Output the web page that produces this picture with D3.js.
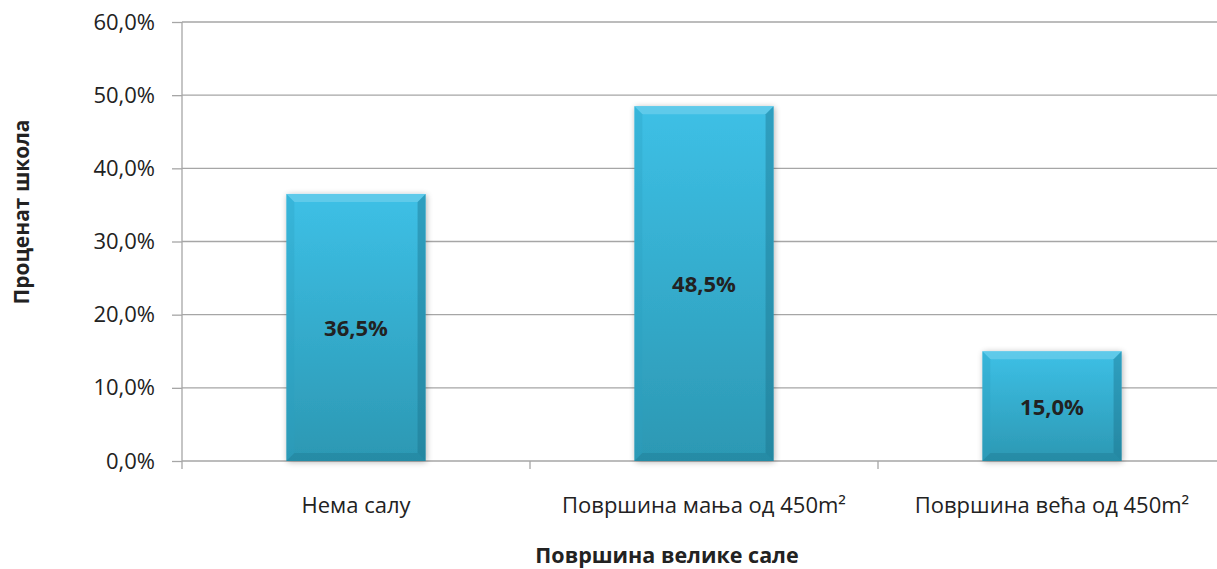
<!DOCTYPE html>
<html><head><meta charset="utf-8">
<script src="https://cdn.jsdelivr.net/npm/d3@7"></script>
<style>body{margin:0;background:#fff;overflow:hidden}text{font-family:"Open Sans","Noto Sans",sans-serif}</style>
</head><body>
<svg id="c" width="1217" height="569"></svg>
<script>
const categories = ["Нема салу", "Површина мања од 450m²", "Површина већа од 450m²"];
const values = [36.5, 48.5, 15.0];
const yTicks = [0, 10, 20, 30, 40, 50, 60];
const yTitle = "Проценат школа";
const xTitle = "Површина велике сале";

(function(){
const svg = d3.select("#c");
const pL = 182, pR = 1226, pT = 22, pB = 461;
const x = d3.scaleBand().domain(categories).range([pL, pR]).paddingInner(0.6).paddingOuter(0.3);
const xb = d3.scaleBand().domain(categories).range([pL, pR]);
const y = d3.scaleLinear().domain([0, 60]).range([pB, pT]);
const fmt = v => v.toFixed(1).replace(".", ",") + "%";
const FF = "'Open Sans','Noto Sans',sans-serif";

const defs = svg.append("defs");
const g1 = defs.append("linearGradient").attr("id", "gv").attr("x1", 0).attr("y1", 0).attr("x2", 0).attr("y2", 1);
g1.append("stop").attr("offset", 0).attr("stop-color", "#3dc0e6");
g1.append("stop").attr("offset", 1).attr("stop-color", "#2c98b3");
const f = defs.append("filter").attr("id", "sh").attr("x", "-20%").attr("y", "-20%").attr("width", "140%").attr("height", "140%");
f.append("feGaussianBlur").attr("in", "SourceAlpha").attr("stdDeviation", 3);
f.append("feOffset").attr("dx", 1).attr("dy", 1).attr("result", "b");
f.append("feComponentTransfer").append("feFuncA").attr("type", "linear").attr("slope", 0.3);
const fm = f.append("feMerge"); fm.append("feMergeNode"); fm.append("feMergeNode").attr("in", "SourceGraphic");

svg.append("g").selectAll("line").data(yTicks.filter(d => d > 0)).join("line")
  .attr("x1", pL).attr("x2", 1217).attr("y1", d => y(d)).attr("y2", d => y(d))
  .attr("stroke", "#a6a6a6").attr("stroke-width", 1.3);

const ya = svg.append("g").attr("transform", `translate(${pL},0)`)
  .call(d3.axisLeft(y).tickValues(yTicks).tickFormat(fmt).tickSize(10).tickPadding(17));
ya.select(".domain").remove();
ya.selectAll(".tick line").attr("stroke", "#a6a6a6").attr("stroke-width", 1.3);
ya.selectAll("text").attr("font-size", 22).attr("fill", "#222").attr("font-family", FF);
svg.append("line").attr("x1", pL).attr("x2", pL).attr("y1", pT).attr("y2", pB).attr("stroke", "#a6a6a6").attr("stroke-width", 1.3);

svg.append("line").attr("x1", pL).attr("x2", 1217).attr("y1", pB).attr("y2", pB).attr("stroke", "#a6a6a6").attr("stroke-width", 1.3);
svg.append("g").selectAll("line").data(categories).join("line")
  .attr("x1", d => xb(d)).attr("x2", d => xb(d)).attr("y1", pB).attr("y2", pB + 8)
  .attr("stroke", "#a6a6a6").attr("stroke-width", 1.3);
svg.append("g").selectAll("text").data(categories).join("text")
  .attr("x", d => xb(d) + xb.bandwidth() / 2).attr("y", 513).attr("text-anchor", "middle")
  .attr("font-size", 22).attr("fill", "#222").text(d => d);

const bars = svg.append("g").selectAll("g").data(categories.map((c, i) => ({c, v: values[i]}))).join("g");
bars.append("rect").attr("x", d => x(d.c)).attr("y", d => y(d.v)).attr("width", x.bandwidth())
  .attr("height", d => pB - y(d.v)).attr("fill", "url(#gv)").attr("filter", "url(#sh)");
const bev = 8;
bars.append("path").attr("d", d => {
  const x0 = x(d.c), x1 = x0 + x.bandwidth(), y0 = y(d.v);
  return `M${x0},${y0}L${x1},${y0}L${x1 - bev},${y0 + bev}L${x0 + bev},${y0 + bev}Z`;
}).attr("fill", "#8ad8ef").attr("opacity", 0.45);
bars.append("path").attr("d", d => {
  const x0 = x(d.c), y0 = y(d.v);
  return `M${x0},${y0}L${x0 + bev},${y0 + bev}L${x0 + bev},${pB - bev}L${x0},${pB}Z`;
}).attr("fill", "#2a9fbf").attr("opacity", 0.3);
bars.append("path").attr("d", d => {
  const x1 = x(d.c) + x.bandwidth(), y0 = y(d.v);
  return `M${x1},${y0}L${x1 - bev},${y0 + bev}L${x1 - bev},${pB - bev}L${x1},${pB}Z`;
}).attr("fill", "#1a6f86").attr("opacity", 0.4);
bars.append("path").attr("d", d => {
  const x0 = x(d.c), x1 = x0 + x.bandwidth();
  return `M${x0},${pB}L${x0 + bev},${pB - bev}L${x1 - bev},${pB - bev}L${x1},${pB}Z`;
}).attr("fill", "#1d7790").attr("opacity", 0.4);
bars.append("text").attr("x", d => x(d.c) + x.bandwidth() / 2).attr("y", d => (y(d.v) + pB) / 2 + 8.5)
  .attr("text-anchor", "middle").attr("font-size", 22).attr("font-weight", "bold").attr("fill", "#222")
  .text(d => fmt(d.v));

svg.append("text").attr("transform", "translate(29,212) rotate(-90)").attr("text-anchor", "middle")
  .attr("font-size", 21).attr("font-weight", "bold").attr("fill", "#222").text(yTitle);
svg.append("text").attr("x", 667).attr("y", 563).attr("text-anchor", "middle")
  .attr("font-size", 21.5).attr("font-weight", "bold").attr("fill", "#222").text(xTitle);
})();
</script>
</body></html>
